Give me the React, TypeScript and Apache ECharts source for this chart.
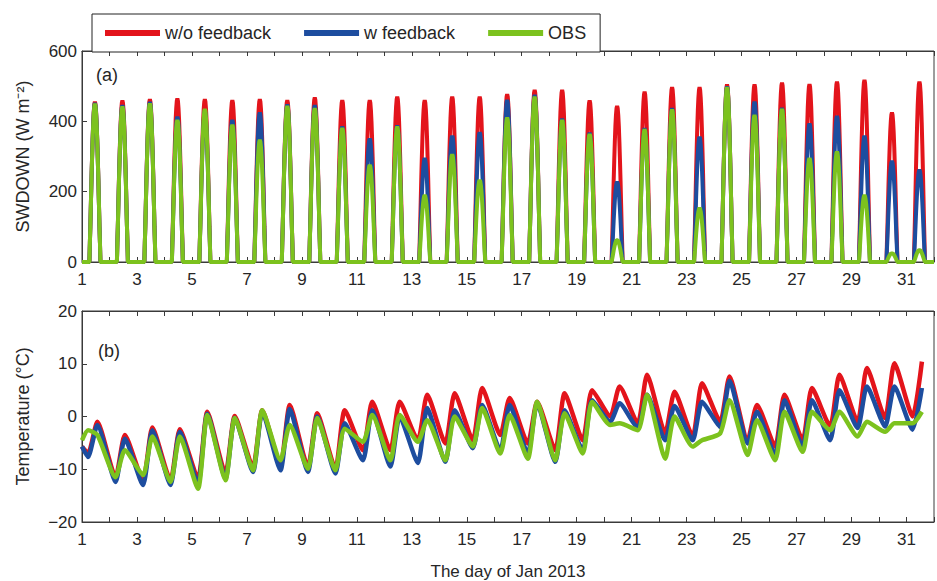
import React, { useEffect, useRef } from 'react';
import * as echarts from 'echarts';

// ---------- data ----------
const DAYS = [1, 2, 3, 4, 5, 6, 7, 8, 9, 10, 11, 12, 13, 14, 15, 16, 17, 18, 19, 20, 21, 22, 23, 24, 25, 26, 27, 28, 29, 30, 31];
const SERIES_NAMES = ['w/o feedback', 'w feedback', 'OBS'];
const SERIES_COLORS = ['#e3141b', '#1d4d9f', '#7cc21e'];

// (a) daily peak of downward shortwave radiation (W m-2)
const SW_WO = [456, 459, 463, 465, 463, 460, 463, 460, 468, 460, 460, 470, 460, 470, 470, 477, 489, 489, 459, 444, 484, 497, 497, 505, 505, 510, 506, 513, 518, 425, 513];
const SW_W = [452, 446, 455, 413, 430, 404, 425, 448, 446, 385, 351, 388, 295, 359, 369, 461, 475, 407, 367, 228, 380, 437, 356, 499, 456, 438, 394, 415, 359, 287, 262];
const SW_OBS = [450, 442, 451, 404, 435, 390, 347, 444, 437, 381, 276, 385, 190, 306, 233, 411, 470, 404, 364, 63, 377, 434, 153, 497, 418, 435, 295, 314, 190, 25, 34];
// diurnal shape of a peak (hours from local peak, fraction of peak)
const SW_PEAK_OFFSET = 0.47;
const SW_PROFILE_HOURS = [-4.8, -4.4, -4, -3.5, -3, -2.5, -2, -1.5, -1, -0.5, 0, 0.5, 1, 1.5, 2, 2.5, 3, 3.5, 4, 4.4, 4.8];
const SW_PROFILE_FRAC = [0, 0.12, 0.22, 0.37, 0.52, 0.65, 0.77, 0.87, 0.94, 0.985, 1, 0.985, 0.94, 0.87, 0.77, 0.65, 0.52, 0.37, 0.22, 0.12, 0];

// (b) temperature (°C): value at start, daily minimum (morning) and maximum (afternoon)
const T_START = [-5.7, -5.7, -4.5];
const T_MIN_OFFSET = 0.22;
const T_MAX_OFFSET = 0.56;
const T_MIN_WO = [-7.0, -11.5, -12.1, -12.1, -11.8, -10.8, -9.6, -9.2, -9.6, -9.9, -6.4, -6.4, -4.5, -5.1, -4.5, -3.5, -5.1, -6.4, -4.5, 0.0, -1.3, -3.2, -3.8, -1.0, -4.5, -5.7, -4.5, -1.9, -1.0, -0.3, 0.0];
const T_MIN_W = [-7.7, -12.4, -13.0, -13.0, -12.7, -11.8, -10.5, -10.2, -10.5, -10.8, -8.3, -9.5, -8.8, -8.6, -6.0, -6.4, -7.0, -8.6, -6.4, -1.0, -2.2, -4.5, -4.5, -2.0, -5.1, -7.3, -5.7, -4.5, -2.2, -1.9, -2.5];
const T_MIN_OBS = [-2.6, -11.5, -11.1, -12.4, -13.7, -12.1, -10.2, -8.3, -9.9, -10.2, -4.8, -8.3, -4.8, -8.3, -5.7, -7.0, -8.0, -8.3, -7.0, -1.6, -2.6, -8.0, -5.7, -3.2, -7.3, -8.3, -6.7, -2.6, -3.8, -2.9, -1.3];
const T_MAX_WO = [-1.0, -3.5, -2.1, -2.4, 0.9, 0.1, 1.2, 2.2, 0.6, 1.2, 2.8, 2.8, 4.1, 4.4, 5.4, 3.5, 2.8, 4.4, 5.0, 5.7, 7.9, 4.7, 6.3, 7.6, 2.2, 4.1, 5.4, 7.9, 9.2, 10.1, 10.4];
const T_MAX_W = [-1.6, -4.2, -2.6, -2.9, 0.5, -0.3, 0.9, 1.4, 0.0, -1.3, 1.2, 0.0, 1.6, 1.2, 2.2, 2.2, 2.5, 1.2, 3.1, 2.5, 4.1, 2.0, 2.8, 6.8, 0.9, 3.1, 3.1, 5.0, 5.7, 5.7, 5.4];
const T_MAX_OBS = [-3.5, -6.4, -3.8, -3.8, 0.3, -0.3, 1.2, -1.6, -0.3, -2.3, 0.3, 0.3, -0.7, 0.0, 1.6, 0.3, 2.8, 0.6, 2.8, -1.3, 4.1, 0.0, -4.5, 3.1, -0.7, 0.9, 0.9, 0.9, -1.0, -1.3, 0.9];

const X_MIN = 1;
const X_MAX = 32;
const SW_TICKS = { min: 0, max: 600, interval: 200 };
const T_TICKS = { min: -20, max: 20, interval: 10 };

// ---------- styling ----------
const FONT = 'Liberation Sans, Arial, Helvetica, sans-serif';
const TXT = '#262626';
const AX = '#3a3a3a';

function buildSW(peaks: number[]) {
  const pts: number[][] = [[X_MIN, 0]];
  DAYS.forEach((d, i) => {
    SW_PROFILE_HOURS.forEach((h, j) => {
      pts.push([d + SW_PEAK_OFFSET + h / 24, peaks[i] * SW_PROFILE_FRAC[j]]);
    });
  });
  pts.push([X_MAX, 0]);
  return pts;
}

function buildT(start: number, mins: number[], maxs: number[]) {
  const pts: number[][] = [[X_MIN, start]];
  DAYS.forEach((d, i) => {
    pts.push([d + T_MIN_OFFSET, mins[i]]);
    pts.push([d + T_MAX_OFFSET, maxs[i]]);
  });
  return pts;
}

const minus = (v: number) => (v < 0 ? '\u2212' + Math.abs(v) : String(v));

function xAxisPair(gridIndex: number, withName: boolean) {
  const common = {
    gridIndex,
    type: 'value',
    min: X_MIN,
    max: X_MAX,
    interval: 1,
    splitLine: { show: false },
    axisLine: { show: true, onZero: false, lineStyle: { color: AX, width: 1 } },
    axisTick: { show: true, inside: true, length: 5, lineStyle: { color: AX } },
  };
  return [
    {
      ...common,
      position: 'bottom',
      axisLabel: {
        show: true,
        margin: 9,
        fontSize: 17,
        color: TXT,
        fontFamily: FONT,
        formatter: (v: number) => {
          const r = Math.round(v);
          return r % 2 === 1 ? String(r) : '';
        },
      },
      ...(withName
        ? {
            name: 'The day of Jan 2013',
            nameLocation: 'middle',
            nameGap: 41,
            nameTextStyle: { fontSize: 17, color: TXT, fontFamily: FONT },
          }
        : {}),
    },
    {
      ...common,
      position: 'top',
      axisLabel: { show: false },
    },
  ];
}

function yAxis(gridIndex: number, ticks: { min: number; max: number; interval: number }, name: string) {
  return {
    gridIndex,
    type: 'value',
    position: 'left',
    min: ticks.min,
    max: ticks.max,
    interval: ticks.interval,
    splitLine: { show: false },
    axisLine: { show: true, onZero: false, lineStyle: { color: AX, width: 1 } },
    axisTick: { show: true, inside: true, length: 5, lineStyle: { color: AX } },
    axisLabel: { margin: 5, fontSize: 17, color: TXT, fontFamily: FONT, formatter: minus },
    name,
    nameLocation: 'middle',
    nameGap: 50,
    nameTextStyle: { fontSize: 18, color: TXT, fontFamily: FONT },
  };
}

export default function App() {
  const ref = useRef<HTMLDivElement>(null);

  useEffect(() => {
    if (!ref.current) return;
    const chart = echarts.init(ref.current, null, { renderer: 'svg' });

    const swData = [SW_WO, SW_W, SW_OBS];
    const tMins = [T_MIN_WO, T_MIN_W, T_MIN_OBS];
    const tMaxs = [T_MAX_WO, T_MAX_W, T_MAX_OBS];

    const series: any[] = [];
    SERIES_NAMES.forEach((name, i) => {
      series.push({
        name,
        type: 'line',
        xAxisIndex: 0,
        yAxisIndex: 0,
        data: buildSW(swData[i]),
        showSymbol: false,
        symbol: 'none',
        lineStyle: { color: SERIES_COLORS[i], width: 4 },
        itemStyle: { color: SERIES_COLORS[i] },
        z: 2 + i,
      });
    });
    SERIES_NAMES.forEach((name, i) => {
      series.push({
        name,
        type: 'line',
        xAxisIndex: 2,
        yAxisIndex: 1,
        data: buildT(T_START[i], tMins[i], tMaxs[i]),
        showSymbol: false,
        symbol: 'none',
        smooth: 0.2,
        lineStyle: { color: SERIES_COLORS[i], width: 4.5 },
        itemStyle: { color: SERIES_COLORS[i] },
        z: 2 + i,
      });
    });

    chart.setOption({
      animation: false,
      backgroundColor: '#fff',
      textStyle: { fontFamily: FONT },
      grid: [
        { left: 82, top: 51, width: 865.5, height: 211, show: true, borderColor: AX, borderWidth: 1, backgroundColor: 'transparent' },
        { left: 82, top: 311, width: 865.5, height: 211, show: true, borderColor: AX, borderWidth: 1, backgroundColor: 'transparent' },
      ],
      xAxis: [...xAxisPair(0, false), ...xAxisPair(1, true)],
      yAxis: [yAxis(0, SW_TICKS, 'SWDOWN (W m\u207B\u00B2)'), yAxis(1, T_TICKS, 'Temperature (\u00B0C)')],
      legend: {
        data: SERIES_NAMES,
        left: 92,
        top: 14,
        orient: 'horizontal',
        backgroundColor: '#fff',
        borderColor: '#222',
        borderWidth: 1,
        borderRadius: 0,
        padding: [10, 14, 10, 13],
        itemGap: 33,
        itemWidth: 55,
        itemHeight: 6,
        icon: 'rect',
        selectedMode: false,
        textStyle: { fontSize: 18, color: TXT, fontFamily: FONT },
        z: 10,
      },
      graphic: [
        { type: 'text', left: 96, top: 66, style: { text: '(a)', fontSize: 18, fill: TXT, fontFamily: FONT } },
        { type: 'text', left: 98, top: 342, style: { text: '(b)', fontSize: 18, fill: TXT, fontFamily: FONT } },
      ],
      series,
    });

    return () => chart.dispose();
  }, []);

  return (
    <div
      ref={ref}
      style={{ position: 'absolute', left: 0, top: 0, width: 937, height: 581, background: '#fff' }}
    />
  );
}
